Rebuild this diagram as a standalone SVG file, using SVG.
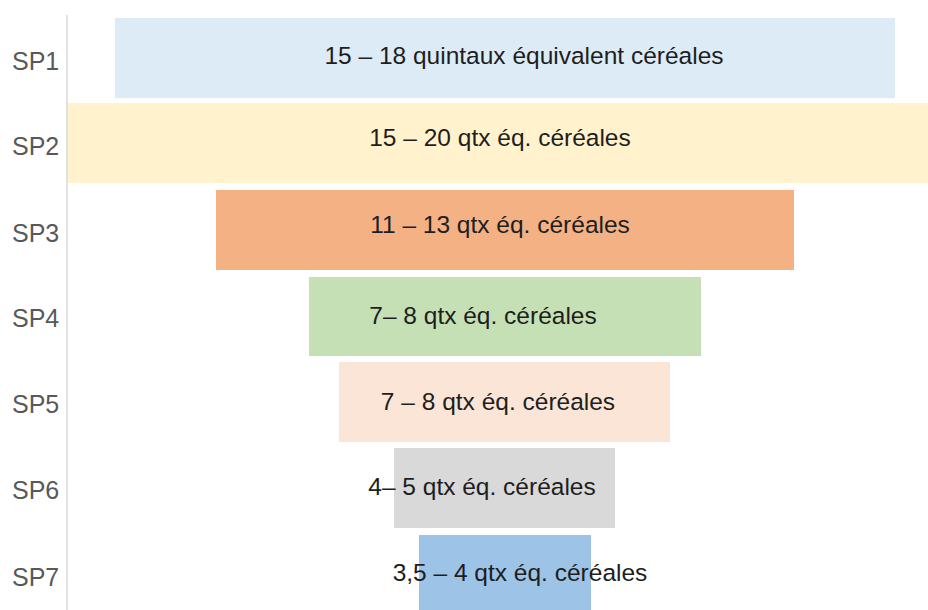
<svg xmlns="http://www.w3.org/2000/svg" width="928" height="610" viewBox="0 0 928 610">
<style>
.lbl{font-family:"Liberation Sans",Arial,sans-serif;font-size:25px;fill:#595959}
.val{font-family:"Liberation Sans",Arial,sans-serif;font-size:24.5px;fill:#1e1e1e;text-anchor:middle}
</style>
<rect width="928" height="610" fill="#ffffff"/>
<g id="axis"><line x1="67" y1="15" x2="67" y2="610" stroke="#d9d9d9" stroke-width="1.5"/></g>
<g id="sp1"><rect x="115" y="18" width="780" height="80" fill="#DDEBF7"/><text class="lbl" x="12" y="70">SP1</text><text class="val" x="524" y="64">15 – 18 quintaux équivalent céréales</text></g>
<g id="sp2"><rect x="68" y="103" width="860" height="80" fill="#FFF2CC"/><text class="lbl" x="12" y="155">SP2</text><text class="val" x="500" y="146">15 – 20 qtx éq. céréales</text></g>
<g id="sp3"><rect x="216" y="190" width="578" height="80" fill="#F4B183"/><text class="lbl" x="12" y="242">SP3</text><text class="val" x="500" y="233">11 – 13 qtx éq. céréales</text></g>
<g id="sp4"><rect x="309" y="277" width="392" height="79" fill="#C5E0B4"/><text class="lbl" x="12" y="327">SP4</text><text class="val" x="483" y="324">7– 8 qtx éq. céréales</text></g>
<g id="sp5"><rect x="339" y="362" width="331" height="80" fill="#FBE5D6"/><text class="lbl" x="12" y="413">SP5</text><text class="val" x="498" y="410">7 – 8 qtx éq. céréales</text></g>
<g id="sp6"><rect x="394" y="448" width="221" height="80" fill="#D9D9D9"/><text class="lbl" x="12" y="499">SP6</text><text class="val" x="482" y="495">4– 5 qtx éq. céréales</text></g>
<g id="sp7"><rect x="419" y="535" width="172" height="75" fill="#9DC3E6"/><text class="lbl" x="12" y="586">SP7</text><text class="val" x="520" y="581">3,5 – 4 qtx éq. céréales</text></g>
<g id="connectors"></g>
</svg>
